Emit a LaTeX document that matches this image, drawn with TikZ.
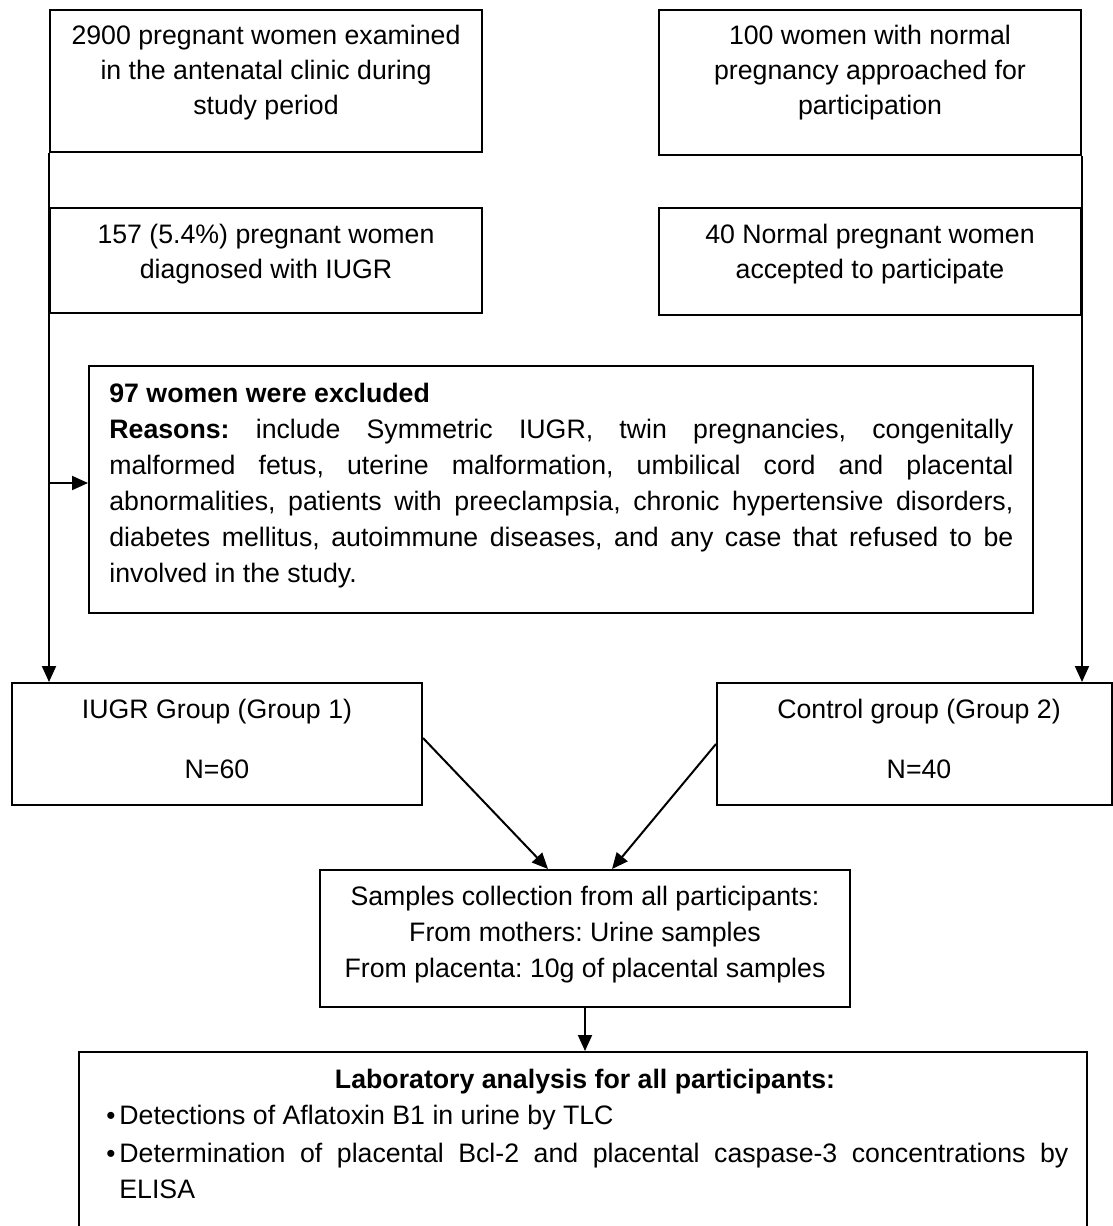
\documentclass[tikz,border=0pt]{standalone}
\usepackage{fontspec}
\setmainfont{Liberation Sans}
\usetikzlibrary{arrows.meta,fit}
\frenchspacing
\begin{document}
\begin{tikzpicture}[x=0.5pt,y=-0.5pt,
  box/.style={draw,line width=1pt,inner sep=0pt},
  txt/.style={font=\fontsize{13.35pt}{17.5pt}\selectfont,inner sep=0pt,anchor=base},
  ltxt/.style={txt,anchor=base west},
  bul/.style={font=\fontsize{13pt}{13pt}\selectfont,inner sep=0pt,anchor=base west},
  arr/.style={line width=1pt,-{Triangle[length=8pt,width=7pt]}}]
\clip (0,0) rectangle (1113,1226);
% boxes
\node[box,fit={(50,10)(482,152)}] (b1) {};
\node[box,fit={(659,10)(1081,155)}] (b2) {};
\node[box,fit={(50,208)(482,313)}] (b3) {};
\node[box,fit={(659,208)(1081,315)}] (b4) {};
\node[box,fit={(89,366)(1033,613)}] (ex) {};
\node[box,fit={(12,683)(422,805)}] (g1) {};
\node[box,fit={(717,683)(1112,805)}] (g2) {};
\node[box,fit={(320,870)(850,1007)}] (s) {};
\node[box,fit={(79,1052)(1087,1270)}] (lab) {};
% texts box 1
\node[txt] (t11) at (266,44) {2900 pregnant women examined};
\node[txt] (t12) at (266,79) {in the antenatal clinic during};
\node[txt] (t13) at (266,114) {study period};
% box 2
\node[txt] (t21) at (870,44) {100 women with normal};
\node[txt] (t22) at (870,79) {pregnancy approached for};
\node[txt] (t23) at (870,114) {participation};
% box 3
\node[txt] (t31) at (266,243) {157 (5.4\%) pregnant women};
\node[txt] (t32) at (266,278) {diagnosed with IUGR};
% box 4
\node[txt] (t41) at (870,243) {40 Normal pregnant women};
\node[txt] (t42) at (870,278) {accepted to participate};
% excluded
\node[ltxt] (e1) at (109,402) {\textbf{97 women were excluded}};
\node[ltxt] (e2) at (109,438) {\makebox[452pt][s]{\textbf{Reasons:} include Symmetric IUGR, twin pregnancies, congenitally}};
\node[ltxt] (e3) at (109,474) {\makebox[452pt][s]{malformed fetus, uterine malformation, umbilical cord and placental}};
\node[ltxt] (e4) at (109,510) {\makebox[452pt][s]{abnormalities, patients with preeclampsia, chronic hypertensive disorders,}};
\node[ltxt] (e5) at (109,546) {\makebox[452pt][s]{diabetes mellitus, autoimmune diseases, and any case that refused to be}};
\node[ltxt] (e6) at (109,582) {involved in the study.};
% groups
\node[txt] (g11) at (217,718) {IUGR Group (Group 1)};
\node[txt] (g12) at (217,778) {N=60};
\node[txt] (g21) at (919,718) {Control group (Group 2)};
\node[txt] (g22) at (919,778) {N=40};
% samples
\node[txt] (s1) at (585,905) {Samples collection from all participants:};
\node[txt] (s2) at (585,941) {From mothers: Urine samples};
\node[txt] (s3) at (585,977) {From placenta: 10g of placental samples};
% laboratory
\node[txt] (l0) at (585,1088) {\textbf{Laboratory analysis for all participants:}};
\node[bul] (lb1) at (106,1124) {•};
\node[ltxt] (l1) at (119,1124) {Detections of Aflatoxin B1 in urine by TLC};
\node[bul] (lb2) at (106,1162) {•};
\node[ltxt] (l2) at (119,1162) {\makebox[474.5pt][s]{Determination of placental Bcl-2 and placental caspase-3 concentrations by}};
\node[ltxt] (l3) at (119,1198) {ELISA};
% connectors
\draw[arr] (b1.south west) -- (b1.south west |- g1.north);
\coordinate (exa) at ([yshift=3.25pt]ex.west);
\draw[arr] (b1.west |- exa) -- (exa);
\draw[arr] (b2.south east) -- (b2.south east |- g2.north);
\draw[arr] ([yshift=3pt]g1.east) -- ([xshift=-18.5pt]s.north);
\draw[arr] (g2.west) -- ([xshift=13.5pt]s.north);
\draw[arr] (s.south) -- (s.south |- lab.north);
\end{tikzpicture}
\end{document}
